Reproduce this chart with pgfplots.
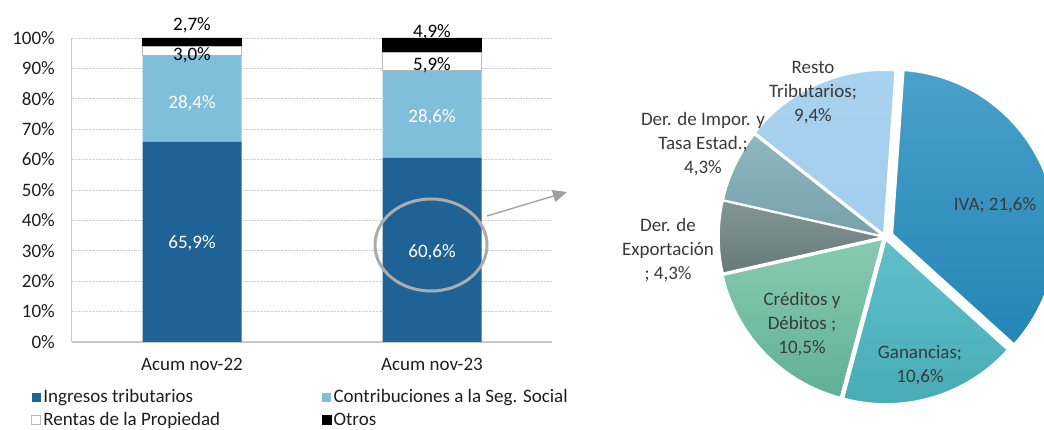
\documentclass[border=0pt]{standalone}
\usepackage{pgfplots}
\pgfplotsset{compat=1.18}
\usepackage{pgfplotstable}
\usepackage{fontspec}
\setmainfont{Carlito}
\usetikzlibrary{arrows.meta}
\definecolor{darkblue}{HTML}{1F6396}
\definecolor{lightblue}{HTML}{7FBFDC}
\definecolor{gridgray}{HTML}{D0D0D0}
\definecolor{axisgray}{HTML}{C8C8C8}
\definecolor{labcol}{HTML}{1E1E1E}
\definecolor{pielab}{HTML}{3A3A3A}
\definecolor{pieT0}{HTML}{4AA0CA}\definecolor{pieB0}{HTML}{2386B6}
\definecolor{pieT1}{HTML}{62BFCB}\definecolor{pieB1}{HTML}{45ABB4}
\definecolor{pieT2}{HTML}{88CBB2}\definecolor{pieB2}{HTML}{60B096}
\definecolor{pieT3}{HTML}{839593}\definecolor{pieB3}{HTML}{67797A}
\definecolor{pieT4}{HTML}{8FB7C1}\definecolor{pieB4}{HTML}{77A0AA}
\definecolor{pieT5}{HTML}{A9D2EF}\definecolor{pieB5}{HTML}{A2CDEC}

\pgfplotstableread{
v name
21.6 IVA
10.6 Ganancias
10.5 Creditos
4.3 Exportacion
4.3 Importacion
9.4 Resto
}\pietable

% bar data labels: position (x, y in %) and text
\pgfplotstableread{
x y lab
0 32.4 {65,9\%}
0 78.6 {28,4\%}
1 29.4 {60,6\%}
1 73.8 {28,6\%}
}\labwhite
\pgfplotstableread{
x y lab
0 94.2 {3,0\%}
0 104.1 {2,7\%}
1 90.9 {5,9\%}
1 101.8 {4,9\%}
}\labblack

% total of the pie values
\gdef\pieTot{0}
\pgfplotstableforeachcolumnelement{v}\of\pietable\as\pieVal{%
  \pgfmathsetmacro\pieTmp{\pieTot+\pieVal}\xdef\pieTot{\pieTmp}}
% start / end / mid angles of each slice (clockwise from 86 deg)
\gdef\pieAcc{86}
\gdef\pieIdx{0}
\pgfplotstableforeachcolumnelement{v}\of\pietable\as\pieVal{%
  \pgfmathsetmacro\pieEnd{\pieAcc-\pieVal/\pieTot*360}%
  \pgfmathsetmacro\pieMid{(\pieAcc+\pieEnd)/2}%
  \expandafter\xdef\csname pieS\pieIdx\endcsname{\pieAcc}%
  \expandafter\xdef\csname pieE\pieIdx\endcsname{\pieEnd}%
  \expandafter\xdef\csname pieM\pieIdx\endcsname{\pieMid}%
  \xdef\pieAcc{\pieEnd}%
  \pgfmathtruncatemacro\pieNext{\pieIdx+1}\xdef\pieIdx{\pieNext}}

\newcommand\pieslice[2]{%
  \shade[top color=pieT#1, bottom color=pieB#1, draw=white, line width=1.5pt]
    (axis cs:0,0) ++(\csname pieM#1\endcsname:#2pt) -- ++(\csname pieS#1\endcsname:164pt)
    arc[start angle=\csname pieS#1\endcsname, end angle=\csname pieE#1\endcsname, radius=164pt] -- cycle;}

\pgfplotsset{barframe/.style={
  scale only axis, width=480pt, height=304pt,
  xmin=-0.5, xmax=1.5, ymin=0, ymax=100}}

\begin{document}
\begin{tikzpicture}
\useasboundingbox (0pt,0pt) rectangle (1044pt,430pt);

\begin{scope}[shift={(72pt,88pt)}]
\begin{axis}[barframe,
  ybar stacked, bar width=99pt,
  xtick={0,1}, xticklabels={Acum nov-22, Acum nov-23},
  ytick={0,10,...,100},
  yticklabel={\pgfmathprintnumber{\tick}\%},
  /pgf/number format/assume math mode=true,
  ymajorgrids, grid style={densely dotted, gridgray, line width=0.8pt},
  axis x line*=bottom, axis y line*=left,
  x axis line style={-, color=axisgray, line width=1.5pt},
  y axis line style={-, color=axisgray, line width=1pt},
  major tick length=0pt,
  tick label style={font=\fontsize{19}{22}\selectfont, text=labcol},
  yticklabel style={inner sep=0pt, xshift=-17pt},
  xticklabel style={inner sep=0pt, yshift=-16pt},
  legend columns=2,
  legend cell align=left,
  legend style={at={(-0.085,-0.15)}, anchor=north west, draw=none, fill=none,
    inner sep=0pt, font=\fontsize{19}{22}\selectfont, text=labcol, row sep=4pt,
    /tikz/every even column/.append style={column sep=100pt}},
  legend image code/.code={\path[#1] (0pt,-4.5pt) rectangle (9pt,4.5pt);},
]
\addplot[fill=darkblue, draw=none] coordinates {(0,65.9) (1,60.6)};
\addlegendentry{Ingresos tributarios}
\addplot[fill=lightblue, draw=none] coordinates {(0,28.4) (1,28.6)};
\addlegendentry{Contribuciones a la Seg. Social}
\addplot[fill=white, draw=gray!55, line width=1pt] coordinates {(0,3.0) (1,5.9)};
\addlegendentry{Rentas de la Propiedad}
\addplot[fill=black, draw=black] coordinates {(0,2.7) (1,4.9)};
\addlegendentry{Otros}
\end{axis}
% data labels, overlaid on the bars
\begin{axis}[barframe, hide axis, clip=false]
\addplot[only marks, mark=none, nodes near coords, point meta=explicit symbolic,
  every node near coord/.append style={anchor=center, inner sep=0pt,
    font=\fontsize{19}{22}\selectfont, text=white}]
  table[x=x, y=y, meta=lab] {\labwhite};
\addplot[only marks, mark=none, nodes near coords, point meta=explicit symbolic,
  every node near coord/.append style={anchor=center, inner sep=0pt,
    font=\fontsize{19}{22}\selectfont, text=black}]
  table[x=x, y=y, meta=lab] {\labblack};
\end{axis}
\end{scope}

% highlight ellipse and arrow
\draw[color=gray!65, line width=3pt] (431pt,185pt) ellipse [x radius=56pt, y radius=46pt];
\draw[color=gray!75, line width=1.3pt, -{Triangle[length=14pt,width=12pt]}] (487pt,214pt) -- (567pt,238pt);

% --- pie
\begin{scope}[shift={(685pt,-7pt)}]
\begin{axis}[hide axis, scale only axis,
  width=400pt, height=400pt, xmin=-200, xmax=200, ymin=-200, ymax=200, clip=false]
\pieslice{0}{8}
\pieslice{1}{3}
\pieslice{2}{3}
\pieslice{3}{2}
\pieslice{4}{2}
\pieslice{5}{3}
\end{axis}
\end{scope}
\begin{scope}[every node/.style={font=\fontsize{19}{24}\selectfont, text=pielab, align=center, inner sep=0pt}]
\node at (813pt,337pt) {Resto\\Tributarios;\\9,4\%};
\node at (703pt,285.5pt) {Der. de Impor. y\\Tasa Estad.;\\4,3\%};
\node at (668pt,180pt) {Der. de\\Exportación\\; 4,3\%};
\node at (802pt,106pt) {Créditos y\\Débitos ;\\10,5\%};
\node at (920pt,65pt) {Ganancias;\\10,6\%};
\node at (995pt,225pt) {IVA; 21,6\%};
\end{scope}
\end{tikzpicture}
\end{document}
